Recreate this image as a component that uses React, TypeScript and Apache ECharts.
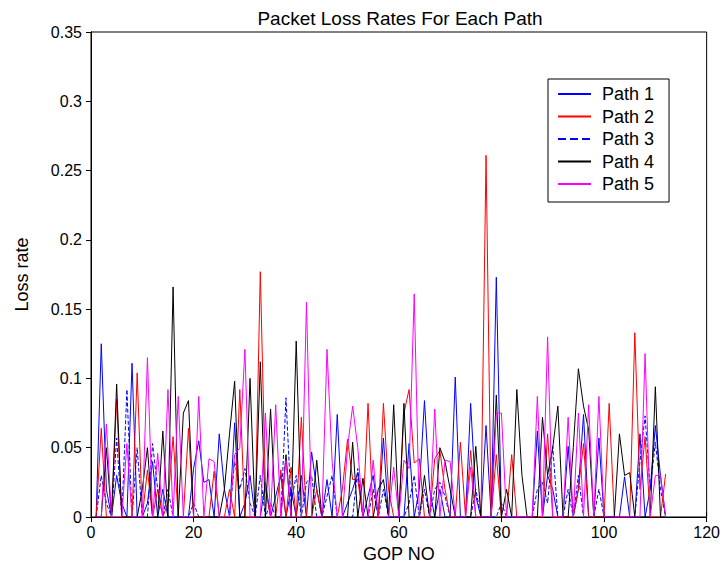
import React, { useEffect, useRef } from "react";
import * as echarts from "echarts";

const gop: number[] = Array.from({ length: 112 }, (_, i) => i + 1);

const path1: number[] = [
  0, 0.125, 0.02, 0, 0.03, 0.01, 0, 0.111, 0, 0,
  0.01, 0.04, 0, 0.02, 0, 0, 0, 0, 0, 0.035,
  0.055, 0.025, 0.027, 0, 0.06, 0.02, 0, 0.068, 0, 0.01,
  0.03, 0, 0, 0.025, 0, 0.015, 0.03, 0, 0.02, 0,
  0.03, 0, 0.047, 0.02, 0, 0.027, 0, 0.074, 0, 0.01,
  0.02, 0.032, 0, 0.015, 0.03, 0, 0.057, 0, 0, 0,
  0, 0.053, 0, 0.02, 0.084, 0.02, 0, 0.02, 0, 0,
  0.101, 0, 0, 0.082, 0.015, 0, 0.066, 0, 0.173, 0,
  0, 0, 0, 0, 0, 0, 0.062, 0, 0.03, 0.02,
  0, 0, 0.051, 0, 0.02, 0.074, 0, 0, 0.057, 0,
  0, 0, 0, 0.029, 0, 0, 0.06, 0, 0.02, 0.066,
  0.03, 0,
];

const path2: number[] = [
  0, 0.064, 0, 0, 0.085, 0, 0, 0, 0.104, 0,
  0.034, 0, 0.02, 0, 0.01, 0.058, 0, 0, 0.064, 0,
  0, 0, 0, 0.033, 0, 0, 0.02, 0, 0.092, 0,
  0, 0, 0.177, 0.02, 0, 0, 0.034, 0, 0.036, 0,
  0.072, 0, 0, 0.02, 0, 0, 0, 0, 0.02, 0.056,
  0.027, 0.027, 0, 0.082, 0, 0, 0.082, 0.02, 0, 0,
  0.075, 0.092, 0.039, 0.042, 0, 0, 0.042, 0.048, 0.02, 0,
  0, 0.054, 0, 0.048, 0, 0, 0.261, 0, 0.045, 0,
  0, 0.045, 0, 0, 0, 0, 0, 0, 0.06, 0,
  0, 0, 0, 0, 0.02, 0.053, 0, 0, 0, 0,
  0.082, 0, 0, 0, 0, 0.133, 0.02, 0.058, 0, 0,
  0, 0.031,
];

const path3: number[] = [
  0, 0.03, 0.01, 0, 0.057, 0, 0.092, 0, 0.05, 0,
  0, 0.053, 0.02, 0, 0.02, 0, 0, 0, 0, 0.01,
  0, 0, 0, 0, 0, 0, 0, 0.04, 0.02, 0.035,
  0.01, 0, 0.03, 0, 0.01, 0, 0, 0.086, 0.01, 0.03,
  0, 0.025, 0.03, 0, 0, 0.015, 0.03, 0, 0, 0,
  0, 0.035, 0, 0, 0.02, 0, 0.02, 0, 0, 0,
  0, 0.01, 0.03, 0, 0.02, 0, 0.02, 0.025, 0.015, 0,
  0, 0, 0, 0, 0.02, 0, 0, 0, 0, 0.01,
  0, 0, 0, 0, 0, 0, 0.02, 0.025, 0.01, 0.051,
  0, 0, 0.02, 0, 0.03, 0, 0, 0, 0.02, 0,
  0, 0, 0, 0, 0, 0, 0.04, 0.073, 0.02, 0.054,
  0.02, 0,
];

const path4: number[] = [
  0, 0, 0.05, 0, 0.096, 0, 0, 0, 0, 0.02,
  0.05, 0, 0, 0.062, 0, 0.166, 0, 0.075, 0.084, 0,
  0, 0, 0, 0, 0, 0.02, 0.06, 0.098, 0, 0,
  0.1, 0, 0.112, 0, 0.078, 0, 0, 0.045, 0, 0.127,
  0, 0, 0, 0.041, 0, 0, 0, 0, 0, 0,
  0.054, 0, 0.028, 0, 0, 0.02, 0.027, 0, 0.081, 0,
  0.082, 0, 0, 0, 0.03, 0, 0, 0.05, 0.04, 0.02,
  0, 0, 0, 0, 0.051, 0, 0, 0, 0.088, 0,
  0.02, 0, 0.092, 0.03, 0, 0, 0, 0.072, 0.03, 0.05,
  0.08, 0, 0, 0.05, 0.107, 0.08, 0.063, 0, 0, 0,
  0, 0, 0.06, 0.03, 0.032, 0, 0, 0, 0, 0.094,
  0, 0,
];

const path5: number[] = [
  0, 0, 0.067, 0, 0, 0, 0.053, 0, 0, 0,
  0.115, 0, 0.046, 0, 0.092, 0, 0.087, 0, 0, 0,
  0.087, 0, 0.042, 0.04, 0, 0, 0, 0.045, 0.05, 0.121,
  0, 0, 0, 0.075, 0, 0.081, 0, 0.041, 0, 0,
  0, 0.155, 0, 0, 0, 0.121, 0.04, 0, 0, 0.05,
  0.08, 0.05, 0, 0, 0.041, 0, 0, 0, 0.036, 0,
  0.041, 0.035, 0.161, 0, 0, 0, 0.078, 0, 0.041, 0.04,
  0, 0, 0, 0.036, 0, 0, 0, 0, 0.075, 0.075,
  0, 0, 0, 0, 0, 0, 0.087, 0, 0.13, 0,
  0, 0, 0.072, 0, 0.075, 0, 0.081, 0, 0.087, 0,
  0, 0, 0, 0, 0, 0, 0, 0.118, 0, 0.03,
  0.03, 0,
];

const seriesNames = ["Path 1", "Path 2", "Path 3", "Path 4", "Path 5"];
const seriesData = [path1, path2, path3, path4, path5];
const seriesColors = ["#0000ff", "#ff0000", "#0000ff", "#000000", "#ff00ff"];
const seriesDash = ["solid", "solid", "dashed", "solid", "solid"];

const FONT = "'Liberation Sans', Arial, sans-serif";

export default function App() {
  const ref = useRef<HTMLDivElement>(null);
  useEffect(() => {
    if (!ref.current) return;
    const chart = echarts.init(ref.current, undefined, { renderer: "svg" });
    const innerTick = { show: true, inside: true, length: 5, lineStyle: { color: "#000" } };
    const axisLine = { show: true, lineStyle: { color: "#000", width: 1 } };
    chart.setOption({
      animation: false,
      backgroundColor: "#fff",
      textStyle: { fontFamily: FONT },
      title: {
        text: "Packet Loss Rates For Each Path",
        left: 400,
        textAlign: "center",
        top: 9,
        padding: 0,
        textStyle: { fontSize: 19, fontWeight: "normal", color: "#000", fontFamily: FONT },
      },
      legend: {
        orient: "vertical",
        left: 548,
        top: 79,
        itemWidth: 33,
        itemHeight: 14,
        itemGap: 4.5,
        padding: [6, 15, 9, 9],
        borderColor: "#000",
        borderWidth: 1,
        backgroundColor: "#fff",
        itemStyle: { opacity: 0 },
        textStyle: { fontSize: 18, lineHeight: 18, color: "#000", fontFamily: FONT, padding: [0, 0, 0, 6] },
        data: seriesNames,
      },
      grid: { left: 91, right: 14, top: 32, bottom: 51, show: true, borderColor: "#000", borderWidth: 1 },
      xAxis: [
        {
          type: "value",
          min: 0,
          max: 120,
          interval: 20,
          name: "GOP NO",
          nameLocation: "middle",
          nameGap: 26,
          nameTextStyle: { fontSize: 18, color: "#000", fontFamily: FONT },
          axisLabel: { fontSize: 16, color: "#000", margin: 7, fontFamily: FONT },
          axisLine,
          axisTick: innerTick,
          splitLine: { show: false },
        },
        {
          type: "value",
          position: "top",
          min: 0,
          max: 120,
          interval: 20,
          axisLabel: { show: false },
          axisLine,
          axisTick: innerTick,
          splitLine: { show: false },
        },
      ],
      yAxis: [
        {
          type: "value",
          min: 0,
          max: 0.35,
          interval: 0.05,
          name: "Loss rate",
          nameLocation: "middle",
          nameGap: 60,
          nameTextStyle: { fontSize: 18, color: "#000", fontFamily: FONT },
          axisLabel: { fontSize: 16, color: "#000", margin: 9, fontFamily: FONT },
          axisLine,
          axisTick: { show: true, inside: false, length: 5, lineStyle: { color: "#000" } },
          splitLine: { show: false },
        },
        {
          type: "value",
          position: "right",
          min: 0,
          max: 0.35,
          interval: 0.05,
          axisLabel: { show: false },
          axisLine,
          axisTick: innerTick,
          splitLine: { show: false },
        },
      ],
      series: seriesNames.map((name, k) => ({
        name,
        type: "line",
        symbol: "none",
        xAxisIndex: 0,
        yAxisIndex: 0,
        data: gop.map((g, i) => [g, seriesData[k][i]]),
        lineStyle: { color: seriesColors[k], width: 1, type: seriesDash[k] },
        itemStyle: { color: seriesColors[k] },
        z: k === 2 ? 1 : 2 + k,
      })),
    });
    return () => chart.dispose();
  }, []);
  return <div ref={ref} style={{ width: 723, height: 568, position: "absolute", left: 0, top: 0 }} />;
}
